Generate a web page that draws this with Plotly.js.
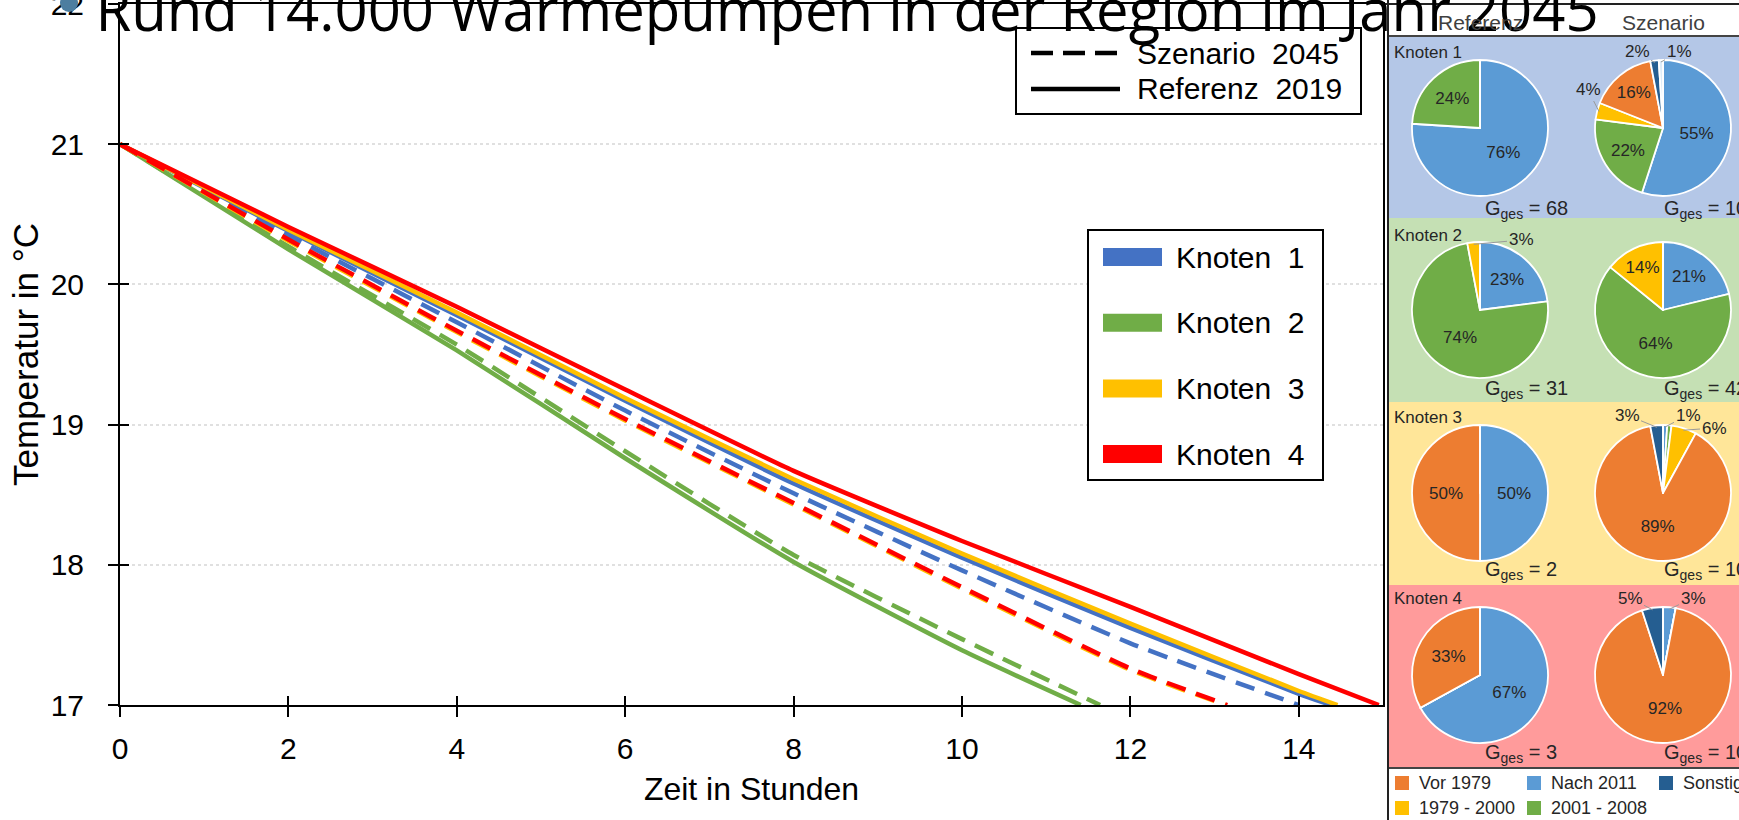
<!DOCTYPE html>
<html>
<head>
<meta charset="utf-8">
<script src="https://cdn.plot.ly/plotly-3.0.1.min.js"></script>
<style>html,body{margin:0;padding:0;background:#fff;}#chart{width:1739px;height:820px;}</style>
</head>
<body>
<div id="chart"></div>
<script>
// ---------------- DATA ----------------
const chartTitle = 'Rund 14.000 Wärmepumpen in der Region im Jahr 2045';
const knotenNames = ['Knoten 1', 'Knoten 2', 'Knoten 3', 'Knoten 4'];
const scenarioNames = ['Szenario 2045', 'Referenz 2019'];

// cooling curves (hours, °C)
const k1RefX  = [0, 2, 4, 6, 8, 10, 12, 14, 14.38];
const k1RefY  = [21, 20.38, 19.78, 19.17, 18.58, 18.05, 17.55, 17.08, 17.0];
const k1ScenX = [0, 2, 4, 6, 8, 10, 12, 14.0];
const k1ScenY = [21, 20.35, 19.73, 19.10, 18.51, 17.96, 17.44, 17.0];
const k2RefX  = [0, 2, 4, 6, 8, 10, 11.41];
const k2RefY  = [21, 20.25, 19.53, 18.76, 18.02, 17.39, 17.0];
const k2ScenX = [0, 2, 4, 6, 8, 10, 11.64];
const k2ScenY = [21, 20.27, 19.57, 18.81, 18.07, 17.47, 17.0];
const k3RefX  = [0, 2, 4, 6, 8, 10, 12, 14, 14.46];
const k3RefY  = [21, 20.39, 19.80, 19.19, 18.61, 18.08, 17.58, 17.10, 17.0];
const k3ScenX = [0, 2, 4, 6, 8, 10, 12, 13.13];
const k3ScenY = [21, 20.31, 19.66, 19.03, 18.43, 17.83, 17.25, 17.0];
const k4RefX  = [0, 2, 4, 6, 8, 10, 12, 14, 14.95];
const k4RefY  = [21, 20.41, 19.84, 19.25, 18.67, 18.17, 17.70, 17.22, 17.0];
const k4ScenX = [0, 2, 4, 6, 8, 10, 12, 13.15];
const k4ScenY = [21, 20.32, 19.67, 19.04, 18.44, 17.84, 17.26, 17.0];

const xTickVals = [0, 2, 4, 6, 8, 10, 12, 14];
const yTickVals = [17, 18, 19, 20, 21, 22];

// building age shares (%) per node
const pieCategories = ['Nach 2011', '2001 - 2008', '1979 - 2000', 'Vor 1979', 'Sonstige', 'Unbekannt'];
const refK1  = [76, 24, 0, 0, 0, 0];
const scenK1 = [55, 22, 4, 16, 2, 1];
const refK2  = [23, 74, 3, 0, 0, 0];
const scenK2 = [21, 64, 14, 0, 0, 0];
const refK3  = [50, 0, 0, 50, 0, 0];
const scenK3 = [1, 1, 6, 89, 3, 0];
const refK4  = [67, 0, 0, 33, 0, 0];
const scenK4 = [3, 0, 0, 92, 5, 0];
const gesRef  = [68, 31, 2, 3];
const gesScen = [105, 42, 105, 105];
const pieColumnTitles = ['Referenz', 'Szenario'];
const pieLegendOrder = ['Vor 1979', 'Nach 2011', 'Sonstige', '1979 - 2000', '2001 - 2008'];

// ---------------- STYLE / LAYOUT ----------------
const W = 1739, H = 820;
const px = x => x / W;
const py = y => 1 - y / H;
const FONT = 'Liberation Sans, Arial, sans-serif';
const knotenColors = ['#4472C4', '#70AD47', '#FFC000', '#FF0000'];
const catColors = {'Nach 2011': '#5B9BD5', '2001 - 2008': '#70AD47', '1979 - 2000': '#FFC000',
                   'Vor 1979': '#ED7D31', 'Sonstige': '#255E91', 'Unbekannt': '#DDEBF7'};
const panelColors = ['#B4C7E7', '#C5E0B4', '#FFE699', '#FF9B9B'];

const X0 = 120, X1 = 1383, Y0 = 4, Y1 = 705; // plot area in px

const lineSeries = [
  [k1ScenX, k1ScenY, k1RefX, k1RefY],
  [k2ScenX, k2ScenY, k2RefX, k2RefY],
  [k3ScenX, k3ScenY, k3RefX, k3RefY],
  [k4ScenX, k4ScenY, k4RefX, k4RefY]
];

const traces = [];
lineSeries.forEach((s, i) => {
  traces.push({x: s[2], y: s[3], type: 'scatter', mode: 'lines', name: knotenNames[i] + ' ' + scenarioNames[1],
    line: {color: knotenColors[i], width: 4.5, shape: 'spline', smoothing: 0.5}, showlegend: false});
  traces.push({x: s[0], y: s[1], type: 'scatter', mode: 'lines', name: knotenNames[i] + ' ' + scenarioNames[0],
    line: {color: knotenColors[i], width: 4.5, dash: '20px,11px', shape: 'spline', smoothing: 0.5}, showlegend: false});
});
// overlay axis for the inner half of the crossing ticks
traces.push({x: [xTickVals[0]], y: [yTickVals[0]], xaxis: 'x2', yaxis: 'y2', type: 'scatter', mode: 'markers',
  marker: {opacity: 0}, hoverinfo: 'skip', showlegend: false});

// pies
const refSets = [refK1, refK2, refK3, refK4];
const scenSets = [scenK1, scenK2, scenK3, scenK4];
const rowCY = [128, 310, 493, 675];
const colCX = [1480, 1663];
const R = 68;
const SMALL = 10; // slices below this share get an outside label with leader line
// outside label positions (px) keyed row-col-slice
const outsideLabelPx = {
  '0-1-2': [1588, 90], '0-1-4': [1637, 52], '0-1-5': [1679, 52],
  '1-0-2': [1521, 240],
  '2-1-0': [1688, 415], '2-1-2': [1714, 428], '2-1-4': [1627, 415],
  '3-1-0': [1693, 598], '3-1-4': [1630, 598]
};
const annotations = [];
function pieTrace(vals, cx, cy, name, row, col) {
  const total = vals.reduce((a, b) => a + b, 0);
  let cum = 0;
  vals.forEach((v, k) => {
    const mid = (cum + v / 2) / total * 2 * Math.PI;
    cum += v;
    const key = row + '-' + col + '-' + k;
    if (v > 0 && v < SMALL && outsideLabelPx[key]) {
      const hx = cx + (R - 2) * Math.sin(mid), hy = cy - (R - 2) * Math.cos(mid);
      const lp = outsideLabelPx[key];
      annotations.push({text: v + '%', xref: 'paper', yref: 'paper', x: px(hx), y: py(hy),
        ax: lp[0] - hx, ay: lp[1] - hy, showarrow: true, arrowhead: 0, arrowwidth: 1, arrowcolor: '#9a9a9a',
        standoff: 0, startstandoff: 0, font: {family: FONT, size: 17, color: '#262626'}});
    }
  });
  return {
    type: 'pie', name: name, labels: pieCategories, values: vals, sort: false, direction: 'clockwise', rotation: 0,
    text: vals.map(v => v >= SMALL ? v + '%' : ''), textinfo: 'text', textposition: 'inside',
    insidetextorientation: 'horizontal',
    textfont: {family: FONT, size: 17, color: '#262626'},
    marker: {colors: pieCategories.map(c => catColors[c]), line: {color: '#ffffff', width: 1.8}},
    domain: {x: [px(cx - R), px(cx + R)], y: [py(cy + R), py(cy - R)]},
    showlegend: false, hoverinfo: 'label+percent'
  };
}
for (let i = 0; i < 4; i++) {
  traces.push(pieTrace(refSets[i], colCX[0], rowCY[i], knotenNames[i] + ' ' + pieColumnTitles[0], i, 0));
  traces.push(pieTrace(scenSets[i], colCX[1], rowCY[i], knotenNames[i] + ' ' + pieColumnTitles[1], i, 1));
}

const shapes = [];
const rectPx = (x0, y0, x1, y1, fill, line, layer) => ({type: 'rect', xref: 'paper', yref: 'paper',
  x0: px(x0), x1: px(x1), y0: py(y1), y1: py(y0), fillcolor: fill,
  line: line || {width: 0}, layer: layer || 'below'});
const linePx = (x0, y0, x1, y1, color, width, dash, layer) => ({type: 'line', xref: 'paper', yref: 'paper',
  x0: px(x0), x1: px(x1), y0: py(y0), y1: py(y1), line: {color: color, width: width, dash: dash || 'solid'}, layer: layer || 'above'});
const textPx = (t, x, y, size, xanchor, color, family) => ({text: t, xref: 'paper', yref: 'paper', x: px(x), y: py(y),
  xanchor: xanchor || 'left', yanchor: 'middle', showarrow: false,
  font: {family: family || FONT, size: size, color: color || '#000'}});

// pie panel backgrounds
const rowBounds = [36, 218, 402, 585, 768];
shapes.push(rectPx(1388, 0, 1745, 36, '#ffffff'));
for (let i = 0; i < 4; i++) shapes.push(rectPx(1388, rowBounds[i], 1745, rowBounds[i + 1], panelColors[i]));
shapes.push(rectPx(1388, 768, 1745, 825, '#ffffff'));
shapes.push(linePx(1383, 4, 1745, 4, '#222', 2));
shapes.push(linePx(1388, 36, 1745, 36, '#444', 2));
shapes.push(linePx(1388, 768, 1745, 768, '#444', 2));
shapes.push(linePx(1388, 0, 1388, 825, '#222', 2));

// pie panel texts
pieColumnTitles.forEach((t, j) => annotations.push(textPx(t, colCX[j], 22, 21, 'center', '#404040')));
for (let i = 0; i < 4; i++) {
  annotations.push(textPx(knotenNames[i], 1392, [52, 235, 417, 598][i], 17, 'left', '#262626'));
  annotations.push(textPx('G<sub>ges</sub> = ' + gesRef[i], 1483, [209, 389, 570, 753][i], 20, 'left', '#262626'));
  annotations.push(textPx('G<sub>ges</sub> = ' + gesScen[i], 1662, [209, 389, 570, 753][i], 20, 'left', '#262626'));
}
// pie legend
pieLegendOrder.forEach((c, k) => {
  const col = k % 3, row = Math.floor(k / 3);
  const lx = 1395 + col * 132, ly = 783 + row * 25;
  shapes.push(rectPx(lx, ly - 7, lx + 14, ly + 7, catColors[c], null, 'above'));
  annotations.push(textPx(c, lx + 22, ly, 18, 'left', '#262626'));
});

// line-style legend box
shapes.push(rectPx(1016, 28, 1361, 114, '#ffffff', {color: '#000', width: 2}, 'above'));
shapes.push(linePx(1031, 53, 1120, 53, '#000', 4.5, '22px,10px'));
shapes.push(linePx(1031, 89, 1120, 89, '#000', 4.5));
annotations.push(textPx(scenarioNames[0].replace(' ', '  '), 1135, 53, 30, 'left'));
annotations.push(textPx(scenarioNames[1].replace(' ', '  '), 1135, 89, 30, 'left'));

// node colour legend box
shapes.push(rectPx(1088, 230, 1323, 480, '#ffffff', {color: '#000', width: 2}, 'above'));
knotenNames.forEach((n, i) => {
  const ly = 257 + i * 65.7;
  shapes.push(rectPx(1103, ly - 9, 1162, ly + 9, knotenColors[i], null, 'above'));
  annotations.push(textPx(n.replace(' ', '  '), 1174, ly, 30, 'left'));
});

// small marker at top-left
shapes.push({type: 'circle', xref: 'paper', yref: 'paper', x0: px(60), x1: px(78), y0: py(12), y1: py(-6),
  fillcolor: '#4d7ea0', line: {width: 0}, layer: 'above'});

const axisCommon = {showline: true, linecolor: '#000', linewidth: 2, mirror: true, zeroline: false,
  ticks: 'outside', ticklen: 10, tickwidth: 2, tickcolor: '#000', ticklabeloverflow: 'allow',
  tickfont: {family: FONT, size: 30, color: '#000'}};

const layout = {
  width: W, height: H,
  margin: {l: 0, r: 0, t: 0, b: 0, pad: 0},
  paper_bgcolor: '#ffffff', plot_bgcolor: '#ffffff',
  showlegend: false,
  title: {text: chartTitle, font: {family: 'Open Sans, sans-serif', size: 58, color: '#000'},
    xref: 'container', yref: 'container', x: 847 / W, xanchor: 'center', y: 1 - 11 / H, yanchor: 'middle'},
  xaxis: Object.assign({}, axisCommon, {domain: [px(X0), px(X1)], range: [0, 15], tickvals: xTickVals,
    showgrid: false, ticklabelstandoff: 6,
    title: {text: 'Zeit in Stunden', font: {family: FONT, size: 32, color: '#000'}, standoff: 14}}),
  yaxis: Object.assign({}, axisCommon, {domain: [py(Y1), py(Y0)], range: [17, 22], tickvals: yTickVals,
    showgrid: true, gridcolor: '#e0e0e0', griddash: 'dot', gridwidth: 1.5, ticklabelstandoff: 18,
    title: {text: 'Temperatur in °C', font: {family: FONT, size: 35, color: '#000'}, standoff: 1}}),
  xaxis2: {overlaying: 'x', matches: 'x', anchor: 'y2', side: 'bottom', ticks: 'inside', ticklen: 9, tickwidth: 2,
    tickcolor: '#000', tickvals: xTickVals, showticklabels: false, showline: false, showgrid: false, zeroline: false},
  yaxis2: {overlaying: 'y', matches: 'y', anchor: 'x2', side: 'left', ticks: 'inside', ticklen: 9, tickwidth: 2,
    tickcolor: '#000', tickvals: yTickVals, showticklabels: false, showline: false, showgrid: false, zeroline: false},
  shapes: shapes,
  annotations: annotations
};

Plotly.newPlot('chart', traces, layout, {displayModeBar: false, responsive: false});
</script>
</body>
</html>
